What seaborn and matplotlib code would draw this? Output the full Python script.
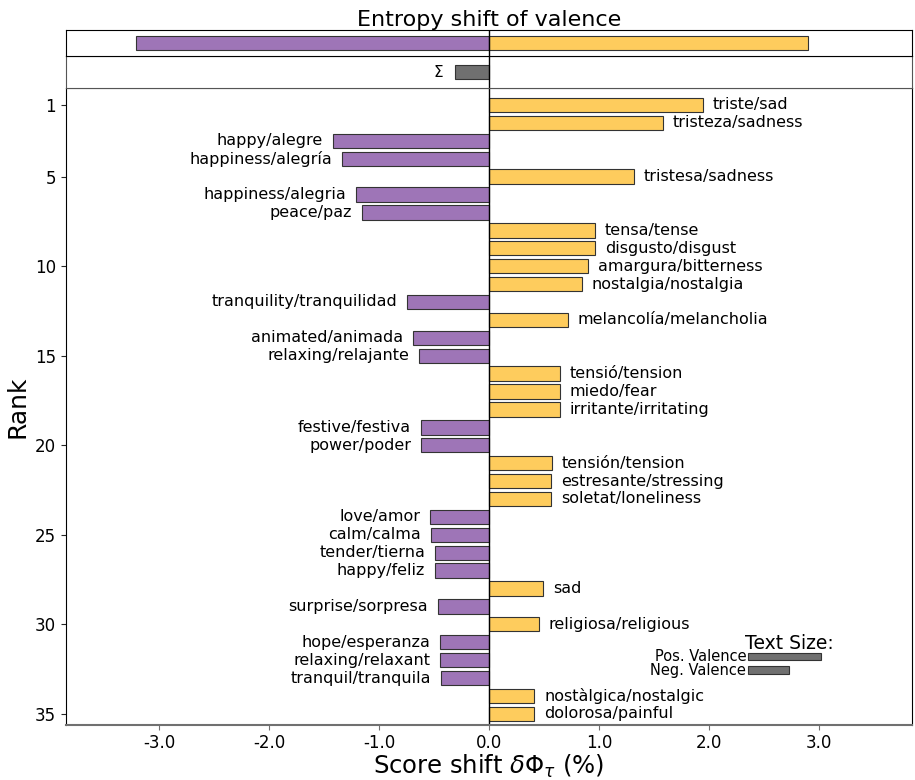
import numpy as np
import pandas as pd
import matplotlib
matplotlib.use('Agg')
import matplotlib.pyplot as plt
import seaborn as sns

# word shift data (rank 1 at top)
words = ['triste/sad', 'tristeza/sadness', 'happy/alegre', 'happiness/alegría',
         'tristesa/sadness', 'happiness/alegria', 'peace/paz', 'tensa/tense',
         'disgusto/disgust', 'amargura/bitterness', 'nostalgia/nostalgia',
         'tranquility/tranquilidad', 'melancolía/melancholia', 'animated/animada',
         'relaxing/relajante', 'tensió/tension', 'miedo/fear', 'irritante/irritating',
         'festive/festiva', 'power/poder', 'tensión/tension', 'estresante/stressing',
         'soletat/loneliness', 'love/amor', 'calm/calma', 'tender/tierna',
         'happy/feliz', 'sad', 'surprise/sorpresa', 'religiosa/religious',
         'hope/esperanza', 'relaxing/relaxant', 'tranquil/tranquila',
         'nostàlgica/nostalgic', 'dolorosa/painful']
shifts = [1.945, 1.58, -1.42, -1.335, 1.315, -1.21, -1.155, 0.965,
          0.965, 0.90, 0.845, -0.745, 0.718, -0.69, -0.635, 0.645,
          0.645, 0.645, -0.618, -0.618, 0.573, 0.565, 0.565, -0.536,
          -0.527, -0.49, -0.49, 0.49, -0.464, 0.455, -0.445, -0.445,
          -0.436, 0.41, 0.41]
ranks = list(range(1, len(words) + 1))

total_pos = 2.90
total_neg = -3.21
total_sum = -0.31

size_labels = ['Pos. Valence', 'Neg. Valence']
size_values = [0.66, 0.37]

pos_color = '#FECC5D'
neg_color = '#9E75B7'
tot_color = '#707070'

df = pd.DataFrame({'rank': ranks, 'shift': shifts, 'word': words})
df['side'] = np.where(df['shift'] > 0, 'pos', 'neg')

sns.set_style('ticks')
plt.rcParams['font.family'] = ['DejaVu Sans']
plt.rcParams['text.color'] = 'black'
plt.rcParams['axes.labelcolor'] = 'black'
plt.rcParams['xtick.labelcolor'] = 'black'
plt.rcParams['ytick.labelcolor'] = 'black'

fig = plt.figure(figsize=(9.15, 7.8), dpi=100)
L, R = 0.072, 0.997
B = 0.071
ax = fig.add_axes([L, B, R - L, 0.8872 - B])
ax_sum = fig.add_axes([L, 0.8872, R - L, 0.041])
ax_tot = fig.add_axes([L, 0.9282, R - L, 0.0333])

xlim = (-3.85, 3.85)

sns.barplot(data=df, x='shift', y='rank', hue='side', orient='h',
            native_scale=True, dodge=False, saturation=1,
            palette={'pos': pos_color, 'neg': neg_color},
            edgecolor='#333333', linewidth=0.8, width=0.8, legend=False, ax=ax)

for r, s, w in zip(ranks, shifts, words):
    if s > 0:
        ax.text(s + 0.09, r, w, ha='left', va='center', fontsize=11.5)
    else:
        ax.text(s - 0.09, r, w, ha='right', va='center', fontsize=11.5)

# text size inset
ax.text(2.33, 31.05, 'Text Size:', ha='left', va='center', fontsize=13.5)
ax.barh([31.8, 32.55], size_values, left=2.36, height=0.4,
        color=tot_color, edgecolor='#333333', linewidth=0.8)
for yy, lab in zip([31.8, 32.55], size_labels):
    ax.text(2.34, yy, lab, ha='right', va='center', fontsize=10.5)

ax.axvline(0, color='black', lw=1)
ax.set_xlim(xlim)
ax.set_ylim(35.6, 0.05)
ax.set_yticks([1, 5, 10, 15, 20, 25, 30, 35])
ax.set_xticks([-3, -2, -1, 0, 1, 2, 3])
ax.set_xticklabels(['-3.0', '-2.0', '-1.0', '0.0', '1.0', '2.0', '3.0'])
ax.tick_params(labelsize=12)
ax.tick_params(axis='x', color='#707070')
ax.spines['bottom'].set_color('#707070')
ax.spines['bottom'].set_linewidth(1.5)
for s in ['top', 'right', 'left']:
    ax.spines[s].set_visible(True)
    ax.spines[s].set_color('black')
ax.spines['top'].set_color('#555555')
ax.set_xlabel(r'Score shift $\delta \Phi_{\tau}$ (%)', fontsize=17.5, labelpad=0)
ax.set_ylabel('Rank', fontsize=18)

# sum panel
ax_sum.barh([0], [total_sum], height=0.5, color=tot_color, edgecolor='#333333', linewidth=0.8)
ax_sum.text(total_sum - 0.1, 0, r'$\Sigma$', ha='right', va='center', fontsize=11)
ax_sum.axvline(0, color='black', lw=1)
ax_sum.set_xlim(xlim)
ax_sum.set_ylim(-0.55, 0.55)
ax_sum.invert_yaxis()
ax_sum.set_xticks([])
ax_sum.set_yticks([])
for s in ax_sum.spines.values():
    s.set_visible(True)
    s.set_color('#555555')

# total panel
ax_tot.barh([0, 0], [total_neg, total_pos], height=0.55,
            color=[neg_color, pos_color], edgecolor='#333333', linewidth=0.8)
ax_tot.axvline(0, color='black', lw=1)
ax_tot.set_xlim(xlim)
ax_tot.set_ylim(-0.5, 0.5)
ax_tot.invert_yaxis()
ax_tot.set_xticks([])
ax_tot.set_yticks([])
for s in ax_tot.spines.values():
    s.set_visible(True)
    s.set_color('black')
ax_tot.set_title('Entropy shift of valence', fontsize=16, pad=3)

fig.savefig('out.png', dpi=100)
